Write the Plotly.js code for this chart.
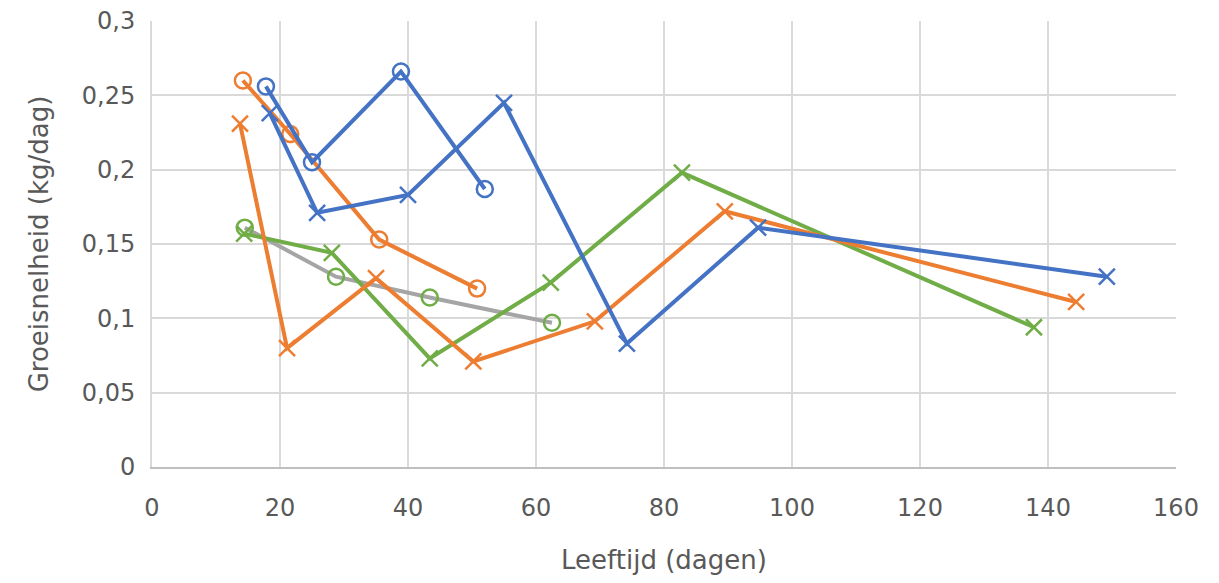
<!DOCTYPE html>
<html>
<head>
<meta charset="utf-8">
<script src="https://cdn.plot.ly/plotly-3.0.1.min.js"></script>
<style>html,body{margin:0;padding:0;background:#fff;}#chart{width:1219px;height:583px;}</style>
</head>
<body>
<div id="chart"></div>
<script>
// Blue, open circles
const blueCircX = [17.8, 25.0, 38.9, 52.0];
const blueCircY = [0.256, 0.205, 0.266, 0.187];
// Blue, crosses
const blueCrossX = [18.4, 25.8, 40.0, 55.0, 74.2, 94.7, 149.2];
const blueCrossY = [0.238, 0.171, 0.183, 0.245, 0.083, 0.161, 0.128];
// Orange, open circles
const orangeCircX = [14.2, 21.6, 35.5, 50.8];
const orangeCircY = [0.260, 0.224, 0.153, 0.120];
// Orange, crosses
const orangeCrossX = [13.75, 21.1, 35.0, 50.2, 69.2, 89.5, 144.4];
const orangeCrossY = [0.231, 0.080, 0.127, 0.071, 0.098, 0.172, 0.111];
// Green circles with grey line
const greenCircX = [14.5, 28.75, 43.4, 62.5];
const greenCircY = [0.161, 0.128, 0.114, 0.097];
// Green, crosses
const greenCrossX = [14.4, 28.1, 43.4, 62.3, 82.8, 137.8];
const greenCrossY = [0.157, 0.144, 0.073, 0.124, 0.198, 0.094];

const xTicks = [0, 20, 40, 60, 80, 100, 120, 140, 160];
const yTicks = [0, 0.05, 0.1, 0.15, 0.2, 0.25, 0.3];

const BLUE = '#4472C4', ORANGE = '#ED7D31', GREEN = '#70AD47', GREY = '#A5A5A5';

function tr(x, y, lineColor, markerColor, symbol) {
  return {
    x: x, y: y, type: 'scatter', mode: 'lines+markers',
    line: {color: lineColor, width: 4},
    marker: {symbol: symbol, size: 16, color: markerColor, line: {color: markerColor, width: 2.5}},
    hoverinfo: 'skip'
  };
}

const data = [
  tr(greenCircX, greenCircY, GREY, GREEN, 'circle-open'),
  tr(greenCrossX, greenCrossY, GREEN, GREEN, 'x-thin-open'),
  tr(orangeCrossX, orangeCrossY, ORANGE, ORANGE, 'x-thin-open'),
  tr(orangeCircX, orangeCircY, ORANGE, ORANGE, 'circle-open'),
  tr(blueCrossX, blueCrossY, BLUE, BLUE, 'x-thin-open'),
  tr(blueCircX, blueCircY, BLUE, BLUE, 'circle-open')
];

const FONT = 'DejaVu Sans, sans-serif';
const layout = {
  width: 1219, height: 583,
  margin: {l: 152, r: 43, t: 21, b: 116},
  paper_bgcolor: '#fff', plot_bgcolor: '#fff',
  separators: ', ',
  showlegend: false,
  font: {family: FONT, color: '#595959', size: 24},
  xaxis: {
    range: [0, 160], tickvals: xTicks, ticks: '',
    showgrid: true, gridcolor: '#D9D9D9', gridwidth: 2,
    zeroline: false, showline: true, linecolor: '#BFBFBF', linewidth: 2,
    tickfont: {family: FONT, size: 24, color: '#595959'},
    ticklabelstandoff: 18,
    title: {text: 'Leeftijd (dagen)', font: {family: FONT, size: 26, color: '#595959'}, standoff: 30}
  },
  yaxis: {
    range: [0, 0.3], tickvals: yTicks, ticks: '',
    showgrid: true, gridcolor: '#D9D9D9', gridwidth: 2,
    zeroline: false, showline: true, linecolor: '#D9D9D9', linewidth: 2,
    tickfont: {family: FONT, size: 24, color: '#595959'},
    ticklabelstandoff: 10,
    title: {text: 'Groeisnelheid (kg/dag)', font: {family: FONT, size: 26, color: '#595959'}, standoff: 26}
  }
};

Plotly.newPlot('chart', data, layout, {displayModeBar: false, staticPlot: true});
</script>
</body>
</html>
